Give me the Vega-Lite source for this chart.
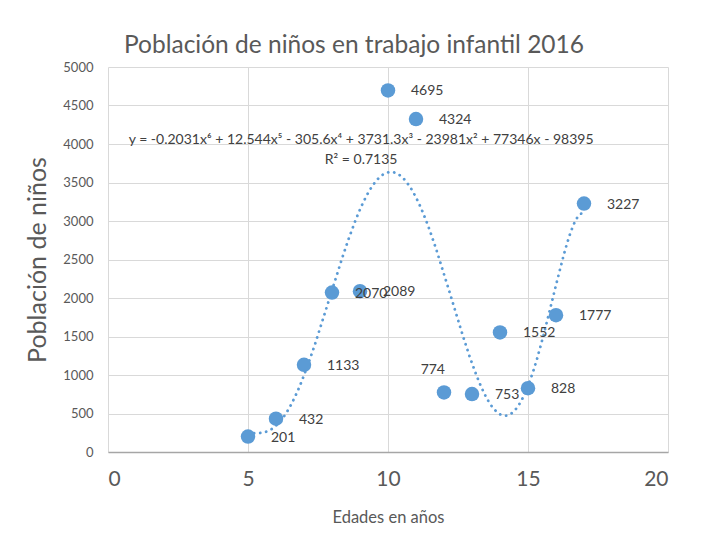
{
  "$schema": "https://vega.github.io/schema/vega-lite/v6.json",
  "width": 560,
  "height": 385,
  "autosize": {"type": "none"},
  "padding": {"left": 108, "top": 67, "right": 33, "bottom": 81},
  "background": "white",
  "title": {
    "text": "Población de niños en trabajo infantil 2016",
    "fontSize": 24.5,
    "font": "Lato",
    "fontWeight": "normal",
    "color": "#595959",
    "anchor": "middle",
    "dx": -34,
    "offset": 3
  },
  "config": {
    "font": "Lato",
    "view": {"stroke": null},
    "axis": {
      "gridColor": "#d9d9d9",
      "gridWidth": 1,
      "ticks": false,
      "labelColor": "#595959",
      "titleColor": "#595959",
      "titleFontWeight": "normal",
      "domain": false
    }
  },
  "data": {
    "values": [
      {"edad": 5, "poblacion": 201},
      {"edad": 6, "poblacion": 432},
      {"edad": 7, "poblacion": 1133},
      {"edad": 8, "poblacion": 2070},
      {"edad": 9, "poblacion": 2089},
      {"edad": 10, "poblacion": 4695},
      {"edad": 11, "poblacion": 4324},
      {"edad": 12, "poblacion": 774},
      {"edad": 13, "poblacion": 753},
      {"edad": 14, "poblacion": 1552},
      {"edad": 15, "poblacion": 828},
      {"edad": 16, "poblacion": 1777},
      {"edad": 17, "poblacion": 3227}
    ]
  },
  "encoding": {
    "x": {
      "field": "edad",
      "type": "quantitative",
      "scale": {"domain": [0, 20], "nice": false},
      "axis": {
        "title": "Edades en años",
        "values": [0, 5, 10, 15, 20],
        "labelFontSize": 21,
        "labelPadding": 16,
        "titleFontSize": 16.5,
        "titlePadding": 20,
        "domain": true,
        "domainColor": "#a6a6a6",
        "domainWidth": 1.5
      }
    },
    "y": {
      "field": "poblacion",
      "type": "quantitative",
      "scale": {"domain": [0, 5000], "nice": false},
      "axis": {
        "title": "Población de niños",
        "format": "d",
        "values": [0, 500, 1000, 1500, 2000, 2500, 3000, 3500, 4000, 4500, 5000],
        "labelFontSize": 13,
        "labelPadding": 15,
        "titleFontSize": 25,
        "titlePadding": 12
      }
    }
  },
  "layer": [
    {
      "transform": [
        {"regression": "poblacion", "on": "edad", "method": "poly", "order": 6, "extent": [5, 17]}
      ],
      "mark": {"type": "line", "color": "#5b9bd5", "strokeWidth": 2.8, "strokeDash": [0.1, 6], "strokeCap": "round"}
    },
    {
      "mark": {"type": "point", "filled": true, "opacity": 1, "size": 210, "color": "#5b9bd5"}
    },
    {
      "transform": [{"filter": "datum.edad != 12"}],
      "mark": {"type": "text", "align": "left", "baseline": "middle", "dx": 23, "dy": 1, "fontSize": 14, "color": "#404040"},
      "encoding": {"text": {"field": "poblacion", "type": "quantitative", "format": "d"}}
    },
    {
      "transform": [{"filter": "datum.edad == 12"}],
      "mark": {"type": "text", "align": "right", "baseline": "middle", "dx": 1, "dy": -22, "fontSize": 14, "color": "#404040"},
      "encoding": {"text": {"field": "poblacion", "type": "quantitative", "format": "d"}}
    },
    {
      "data": {
        "values": [
          {"tx": 9.04, "ty": 4052, "label": "y = -0.2031x⁶ + 12.544x⁵ - 305.6x⁴ + 3731.3x³ - 23981x² + 77346x - 98395"},
          {"tx": 9.04, "ty": 3792, "label": "R² = 0.7135"}
        ]
      },
      "mark": {"type": "text", "align": "center", "baseline": "middle", "fontSize": 14, "color": "#404040"},
      "encoding": {
        "x": {"field": "tx", "type": "quantitative"},
        "y": {"field": "ty", "type": "quantitative"},
        "text": {"field": "label"}
      }
    }
  ]
}
